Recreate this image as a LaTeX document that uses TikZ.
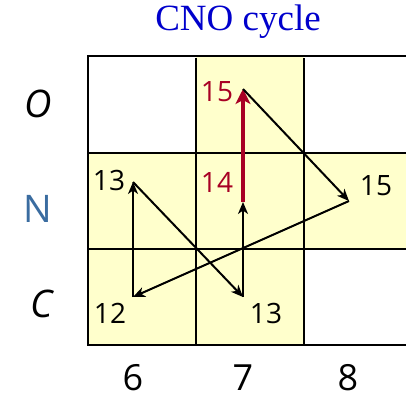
\documentclass[tikz,border=0pt]{standalone}
\usepackage{fontspec}
\setmainfont{Liberation Serif}
\newfontfamily\numfont{Open Sans}
\usetikzlibrary{arrows.meta}
\definecolor{cellyellow}{RGB}{255,255,204}
\definecolor{cnored}{RGB}{168,0,36}
\definecolor{nblue}{RGB}{58,108,160}
\definecolor{titleblue}{RGB}{0,0,204}
\tikzset{
  gridline/.style={line width=1.8pt},
  flow/.style={-{Stealth[length=12pt,width=10pt,inset=3.5pt]}, line width=2pt},
  redflow/.style={-{Stealth[length=15pt,width=15pt,inset=4pt]}, line width=4.5pt, cnored},
  mass/.style={font=\numfont\fontsize{28}{28}\selectfont, inner sep=1pt},
  axis/.style={font=\numfont\fontsize{36}{36}\selectfont, inner sep=0pt},
  element/.style={font=\numfont\itshape\fontsize{38}{38}\selectfont},
}
\begin{document}
\begin{tikzpicture}[x=1pt,y=-1pt]
  \useasboundingbox (0,0) rectangle (406,402);
  % cells
  \fill[cellyellow] (88,153) rectangle (406,249);
  \fill[cellyellow] (196,56) rectangle (304,345);
  \fill[cellyellow] (88,249) rectangle (196,345);
  \draw[gridline] (406,56) -- (88,56) -- (88,345) -- (406,345);
  \draw[gridline] (88,153) -- (406,153) (88,249) -- (406,249);
  \draw[gridline] (196,58) -- (196,345) (304,58) -- (304,345);

  \node (title) at (238,22) [font=\fontsize{37}{37}\selectfont, text=titleblue] {CNO cycle};

  % nuclei
  \coordinate (c12) at (133,297);
  \coordinate (n13) at (133,182);
  \coordinate (c13) at (243,297);
  \coordinate (n14) at (243,202);
  \coordinate (o15) at (243,89);
  \coordinate (n15) at (349,201);

  \node (lc12) at (110,313) [mass] {12};
  \node (ln13) at (109,180) [mass] {13};
  \node (lc13) at (266,313) [mass] {13};
  \node (ln14) at (217,182) [mass, text=cnored] {14};
  \node (lo15) at (217,92) [mass, text=cnored] {15};
  \node (ln15) at (376,186) [mass] {15};

  \draw[flow] (c12) -- (n13);
  \draw[flow] (n13) -- (c13);
  \draw[flow] (c13) -- (n14);
  \draw[redflow] (n14) -- (o15);
  \draw[flow] (o15) -- (n15);
  \draw[flow] (n15) -- (c12);

  % axes
  \node (lo) at (38,104) [element] {O};
  \node (ln) at (38,209) [element, font=\numfont\fontsize{38}{38}\selectfont, text=nblue] {N};
  \node (lc) at (42,304) [element] {C};
  \node (z6) at (133,378) [axis] {6};
  \node (z7) at (243,378) [axis] {7};
  \node (z8) at (348,378) [axis] {8};
\end{tikzpicture}
\end{document}
